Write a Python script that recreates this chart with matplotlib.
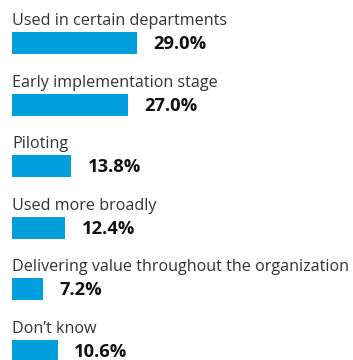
import matplotlib
matplotlib.use("Agg")
import matplotlib.pyplot as plt

categories = ["Used in certain departments", "Early implementation stage", "Piloting",
              "Used more broadly", "Delivering value throughout the organization", "Don\u2019t know"]
values = [29.0, 27.0, 13.8, 12.4, 7.2, 10.6]
value_labels = ["29.0%", "27.0%", "13.8%", "12.4%", "7.2%", "10.6%"]

W, H = 353, 360
fig = plt.figure(figsize=(W / 100, H / 100), dpi=100)
ax = fig.add_axes([0, 0, 1, 1])
pxu = 4.31  # px per percent
x0 = 12
ax.set_xlim(-x0 / pxu, (W - x0) / pxu)
sp = 61.6
c0 = 43
ax.set_ylim((H - c0) / sp, -c0 / sp)
ax.axis("off")

ys = list(range(len(categories)))
ax.barh(ys, values, height=22 / sp, color="#009EDB", left=0)
font = "Open Sans"
for i, (c, v, lab) in enumerate(zip(categories, values, value_labels)):
    ax.text(0, i - 18 / sp, c, ha="left", va="baseline", fontsize=11.65,
            family=font, color="#333333")
    ax.text(v + 16 / pxu, i + 1 / sp, lab, ha="left", va="center", fontsize=13.2,
            family=font, fontweight="bold", color="#111111")

fig.savefig("out.png", dpi=100)
